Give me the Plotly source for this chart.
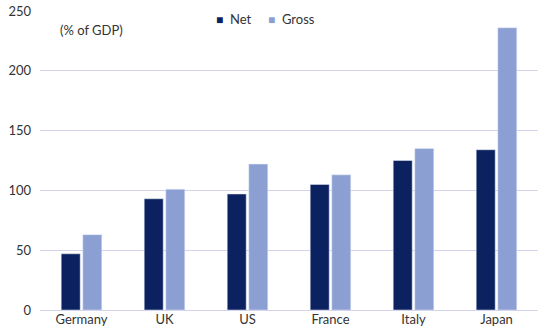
import plotly.graph_objects as go

countries = ["Germany", "UK", "US", "France", "Italy", "Japan"]
net_debt = [47, 93, 97, 105, 125, 134]
gross_debt = [63, 101, 122, 113, 135, 236]
y_ticks = [0, 50, 100, 150, 200, 250]
series_names = ["Net", "Gross"]

NAVY = "#0c2260"
LIGHT = "#8c9fd2"
GRID = "#d3d3ee"
TEXT = "#333333"
FONT = "Lato"

fig = go.Figure()
fig.add_trace(go.Bar(name=series_names[0], x=countries, y=net_debt, marker_color=NAVY))
fig.add_trace(go.Bar(name=series_names[1], x=countries, y=gross_debt, marker_color=LIGHT))

# compact legend: small coloured squares followed by the series name
legend_notes = []
for name, colour, xpos in zip(series_names, [NAVY, LIGHT], [0.350, 0.454]):
    legend_notes.append(dict(
        text=f'<span style="color:{colour};font-size:12px">■</span>  {name}',
        x=xpos, y=0.973, xref="paper", yref="paper",
        xanchor="left", yanchor="middle", showarrow=False,
        font=dict(size=13, color=TEXT, family=FONT),
    ))

fig.update_layout(
    width=547,
    height=335,
    margin=dict(l=40, r=9, t=11, b=25, autoexpand=False),
    paper_bgcolor="white",
    plot_bgcolor="white",
    barmode="group",
    bargap=0.48,
    bargroupgap=0.12,
    font=dict(family=FONT, size=13, color=TEXT),
    showlegend=False,
    xaxis=dict(
        showgrid=False,
        showline=False,
        ticks="",
        tickfont=dict(size=13, color=TEXT),
    ),
    yaxis=dict(
        range=[0, 250],
        tickvals=y_ticks,
        showgrid=True,
        gridcolor=GRID,
        gridwidth=1.3,
        zeroline=True,
        zerolinecolor=GRID,
        zerolinewidth=1.3,
        showline=False,
        ticks="",
        tickfont=dict(size=13, color=TEXT),
        ticklabelstandoff=8,
    ),
    annotations=[
        dict(
            text="(% of GDP)",
            x=0.036,
            y=0.935,
            xref="paper",
            yref="paper",
            xanchor="left",
            yanchor="middle",
            showarrow=False,
            font=dict(size=13, color=TEXT),
        )
    ] + legend_notes,
)

fig.write_html("out.html")
